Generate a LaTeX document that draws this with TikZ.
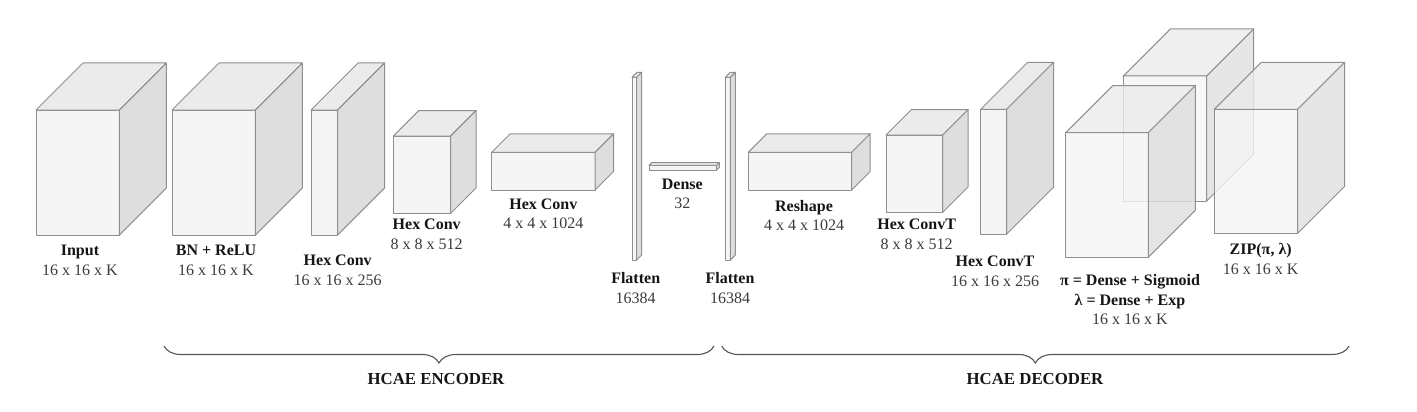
\documentclass[tikz,border=0pt]{standalone}
\usepackage{fontspec}
\setmainfont{Liberation Serif}
\usetikzlibrary{decorations.pathreplacing}
\definecolor{edgec}{HTML}{8F8F8F}
\definecolor{ffront}{HTML}{F5F5F5}
\definecolor{ftop}{HTML}{EBEBEB}
\definecolor{fside}{HTML}{DEDEDE}
\definecolor{dimtext}{HTML}{3A3A3A}
\definecolor{titletext}{HTML}{151515}
\definecolor{bracec}{HTML}{555555}
\tikzset{
  face/.style={draw=edgec, line width=1pt, inner sep=0pt, outer sep=0pt, line join=round},
  facel/.style={draw=edgec, line width=1pt, line join=round},
  lab/.style={align=center, inner sep=0pt, font=\fontsize{16}{19.6}\selectfont, text=titletext},
  brc/.style={draw=bracec, line width=1.1pt, decorate, decoration={brace, mirror, amplitude=17pt}},
  brlab/.style={inner sep=0pt, font=\fontsize{16.8}{19}\selectfont\bfseries, text=titletext}
}
% name, x, y, w, h, d, extra style
\newcommand{\blk}[7]{%
  \node[face, fill=ffront, minimum width=#4pt, minimum height=#5pt, anchor=north west, #7] (#1) at (#2,#3) {};
  \draw[facel, fill=ftop, #7] (#1.north west) -- ++(#6,-#6) -- ++(#4,0) -- (#1.north east) -- cycle;
  \draw[facel, fill=fside, #7] (#1.north east) -- ++(#6,-#6) -- ++(0,#5) -- (#1.south east) -- cycle;
}
\newcommand{\dimt}[1]{\textcolor{dimtext}{\mdseries #1}}
\begin{document}
\begin{tikzpicture}[x=1pt, y=-1pt]
\useasboundingbox (0,0) rectangle (1417,412);

% encoder blocks
\blk{input}{36}{110}{83.3}{125}{47}{}
\blk{bnrelu}{172}{110}{83.3}{125}{47}{}
\blk{hexa}{311}{110}{26.7}{125}{47}{}
\blk{hexb}{393.3}{136}{57.4}{77.3}{25.5}{}
\blk{hexc}{491.7}{152.3}{103.3}{37.7}{18.5}{}
\blk{flata}{632}{77.3}{4.7}{182.7}{5}{}
\blk{dense}{649}{165.3}{67.7}{4.7}{2.7}{}
\blk{flatb}{725.3}{77.3}{5}{182.7}{5}{}
% decoder blocks
\blk{reshape}{748.3}{152.3}{103.4}{37.7}{18.5}{}
\blk{convta}{886}{135}{56.7}{77.3}{25.5}{}
\blk{convtb}{980.7}{109.3}{26}{124.7}{47}{}
\blk{piback}{1123.3}{76}{83.4}{125}{47}{fill opacity=0.8}
\blk{pifront}{1065.7}{132.7}{82.6}{124.6}{47}{fill opacity=0.8}
\blk{zip}{1214.3}{109.3}{83.4}{124}{47}{fill opacity=0.8}

% labels
\node[lab] (linput) at (80,260.3) {\textbf{Input}\\\dimt{16 x 16 x K}};
\node[lab] (lbn) at (216,260.3) {\textbf{BN + ReLU}\\\dimt{16 x 16 x K}};
\node[lab] (lhexa) at (337.7,270) {\textbf{Hex Conv}\\\dimt{16 x 16 x 256}};
\node[lab] (lhexb) at (426.7,234.2) {\textbf{Hex Conv}\\\dimt{8 x 8 x 512}};
\node[lab] (lhexc) at (543.3,213.7) {\textbf{Hex Conv}\\\dimt{4 x 4 x 1024}};
\node[lab] (lflata) at (635.7,288.3) {\textbf{Flatten}\\\dimt{16384}};
\node[lab] (ldense) at (682.3,194) {\textbf{Dense}\\\dimt{32}};
\node[lab] (lflatb) at (730,288.3) {\textbf{Flatten}\\\dimt{16384}};
\node[lab] (lreshape) at (804,215.7) {\textbf{Reshape}\\\dimt{4 x 4 x 1024}};
\node[lab] (lconvta) at (916.7,234) {\textbf{Hex ConvT}\\\dimt{8 x 8 x 512}};
\node[lab] (lconvtb) at (995,271.2) {\textbf{Hex ConvT}\\\dimt{16 x 16 x 256}};
\node[lab] (lpi) at (1130,299.7) {\textbf{π = Dense + Sigmoid}\\\textbf{λ = Dense + Exp}\\\dimt{16 x 16 x K}};
\node[lab] (lzip) at (1260.7,259.2) {\textbf{ZIP(π, λ)}\\\dimt{16 x 16 x K}};

% braces
\coordinate (encl) at (164,346);
\coordinate (encr) at (714,346);
\coordinate (decl) at (721.7,346);
\coordinate (decr) at (1349,346);
\draw[brc] (encl) -- (encr);
\draw[brc] (decl) -- (decr);
\node[brlab] (lenc) at (436,379) {HCAE ENCODER};
\node[brlab] (ldec) at (1035,379) {HCAE DECODER};
\end{tikzpicture}
\end{document}
